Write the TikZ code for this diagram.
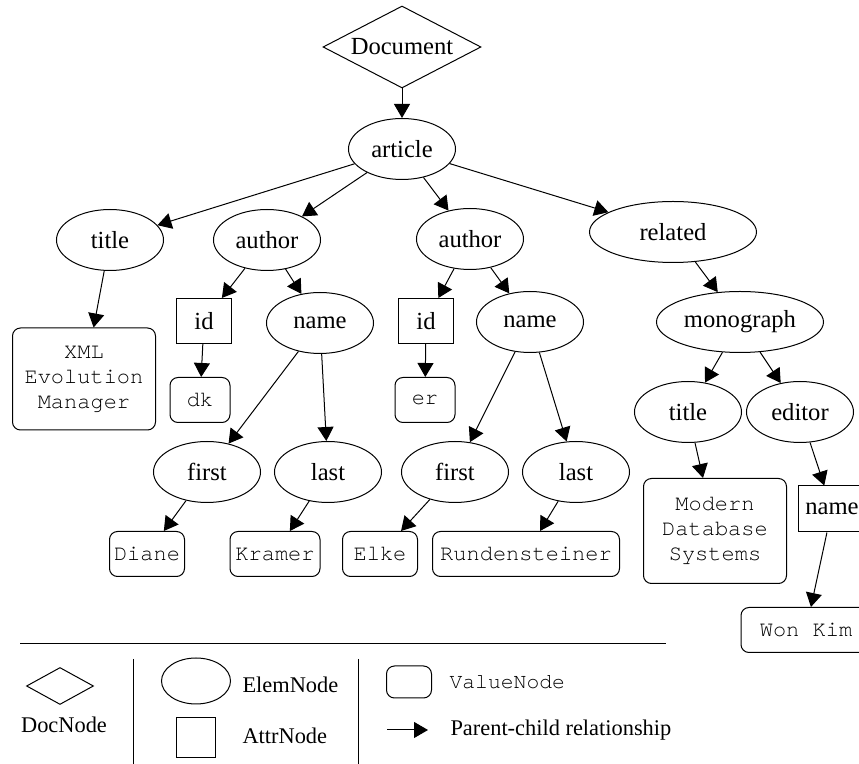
\documentclass[tikz,border=0pt]{standalone}
\usepackage{fontspec}
\setmainfont{Liberation Serif}
\setmonofont{TeX Gyre Cursor}
\usetikzlibrary{arrows.meta,shapes.geometric}

\begin{document}
\begin{tikzpicture}[x=0.5pt,y=-0.5pt,line width=0.5pt,
  >={Triangle[length=7pt,width=8pt]},
  elem/.style={ellipse,draw,minimum width=53.5pt,minimum height=30.5pt,inner sep=0pt,
    font=\fontsize{12.3}{14}\selectfont},
  attr/.style={rectangle,draw,minimum width=27.5pt,minimum height=22.5pt,inner sep=0pt,
    font=\fontsize{12.3}{14}\selectfont},
  val/.style={rounded corners=4pt,draw,minimum height=22.5pt,inner sep=0pt,align=center,
    font=\ttfamily\fontsize{11}{12.5}\selectfont},
  doc/.style={diamond,draw,aspect=2,inner sep=0pt,font=\fontsize{12.3}{14}\selectfont},
  a/.style={->},
  lg/.style={anchor=west,inner sep=0pt,font=\fontsize{11.2}{13}\selectfont}]
\useasboundingbox (0,0) rectangle (859,764);
% tree
\node[doc,minimum width=79pt,minimum height=41pt] (doc) at (402,47) {Document};
\node[elem] (article) at (402,149) {article};
\node[elem] (title) at (110,240) {title};
\node[elem] (author1) at (267,240) {author};
\node[elem] (author2) at (470,239) {author};
\node[elem,minimum width=83.5pt] (related) at (673,232) {related};
\node[attr] (id1) at (204,321) {id};
\node[elem] (name1) at (320,323) {name};
\node[attr] (id2) at (426,321) {id};
\node[elem] (name2) at (530,322) {name};
\node[val,minimum width=71.5pt,minimum height=51pt] (xml) at (84,379) {XML\\Evolution\\Manager};
\node[val,minimum width=30pt] (dk) at (200,400) {dk};
\node[val,minimum width=30pt] (er) at (425,400) {er};
\node[elem,minimum width=83.5pt] (mono) at (740,322) {monograph};
\node[elem] (title2) at (688,412) {title};
\node[elem] (editor) at (800,412) {editor};
\node[val,minimum width=71.5pt,minimum height=52.5pt] (modern) at (715,531) {Modern\\Database\\Systems};
\node[attr,minimum width=34pt,minimum height=23pt] (nameattr) at (832,509) {name};
\node[val,minimum width=65pt] (wonkim) at (806,630) {Won Kim};
\node[elem] (first1) at (207,472) {first};
\node[elem] (last1) at (328,472) {last};
\node[elem] (first2) at (455,472) {first};
\node[elem] (last2) at (576,472) {last};
\node[val,minimum width=37.5pt] (diane) at (147,554) {Diane};
\node[val,minimum width=45pt] (kramer) at (275,554) {Kramer};
\node[val,minimum width=37.5pt] (elke) at (380,554) {Elke};
\node[val,minimum width=93.5pt] (rund) at (526,554) {Rundensteiner};
\draw[a] (doc)--(article);
\draw[a] (article)--(title); \draw[a] (article)--(author1);
\draw[a] (article)--(author2); \draw[a] (article)--(related);
\draw[a] (title)--(xml);
\draw[a] (author1)--(id1); \draw[a] (author1)--(name1); \draw[a] (id1)--(dk);
\draw[a] (name1)--(first1); \draw[a] (name1)--(last1);
\draw[a] (author2)--(id2); \draw[a] (author2)--(name2); \draw[a] (id2)--(er);
\draw[a] (name2)--(first2); \draw[a] (name2)--(last2);
\draw[a] (first1)--(diane); \draw[a] (last1)--(kramer);
\draw[a] (first2)--(elke); \draw[a] (last2)--(rund);
\draw[a] (related)--(mono); \draw[a] (mono)--(title2); \draw[a] (mono)--(editor);
\draw[a] (title2)--(modern); \draw[a] (editor)--(nameattr); \draw[a] (nameattr)--(wonkim);
% legend
\draw (20,644)--(666,644);
\draw (133,659)--(133,764); \draw (358,659)--(358,764);
\node[doc,minimum width=33.5pt,minimum height=18.5pt] (lgdoc) at (60,686) {};
\node[lg,anchor=center] (lgdoctxt) at (64,725) {DocNode};
\node[elem,minimum width=34.5pt,minimum height=23pt] (lgelem) at (196,681) {};
\node[lg] (lgelemtxt) at (242,685) {ElemNode};
\node[attr,minimum width=19.5pt,minimum height=20pt] (lgattr) at (196,738) {};
\node[lg] (lgattrtxt) at (242,736) {AttrNode};
\node[val,minimum width=22.5pt,minimum height=16pt] (lgval) at (409,682) {};
\node[lg,font=\ttfamily\fontsize{10.7}{12}\selectfont] (lgvaltxt) at (449,682) {ValueNode};
\coordinate (lga) at (387,730); \coordinate (lgb) at (428,730);
\draw[a] (lga)--(lgb);
\node[lg] (lgatxt) at (450,730) {Parent-child relationship};
\end{tikzpicture}
\end{document}
